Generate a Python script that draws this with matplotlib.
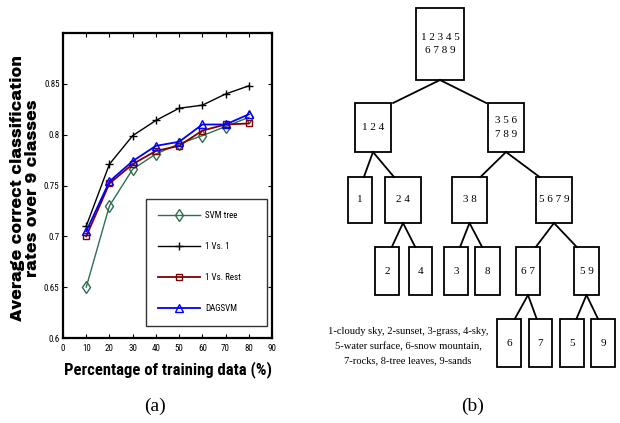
import matplotlib
matplotlib.use("Agg")
import matplotlib.pyplot as plt
from matplotlib.patches import Rectangle

# ---- data for panel (a)
train_pct = [10, 20, 30, 40, 50, 60, 70, 80]
svm_tree = [0.650, 0.730, 0.766, 0.781, 0.791, 0.799, 0.808, 0.817]
one_vs_one = [0.710, 0.771, 0.799, 0.814, 0.826, 0.829, 0.840, 0.848]
one_vs_rest = [0.700, 0.752, 0.771, 0.784, 0.789, 0.804, 0.810, 0.811]
dagsvm = [0.705, 0.754, 0.774, 0.789, 0.793, 0.810, 0.810, 0.820]
series_names = ["SVM tree", "1 Vs. 1", "1 Vs. Rest", "DAGSVM"]
xticks = list(range(0, 100, 10))
yticks = [0.6, 0.65, 0.7, 0.75, 0.8, 0.85]
ytick_labels = ["0.6", "0.65", "0.7", "0.75", "0.8", "0.85"]

# ---- data for panel (b): tree of class groups
tree_labels = ["1 2 3 4 5\n6 7 8 9", "1 2 4", "3 5 6\n7 8 9", "1", "2 4", "3 8",
               "5 6 7 9", "2", "4", "3", "8", "6 7", "5 9", "6", "7", "5", "9"]
tree_edges = [(0, 1), (0, 2), (1, 3), (1, 4), (2, 5), (2, 6), (4, 7), (4, 8),
              (5, 9), (5, 10), (6, 11), (6, 12), (11, 13), (11, 14), (12, 15), (12, 16)]
legend_text = ("1-cloudy sky, 2-sunset, 3-grass, 4-sky,\n"
               "5-water surface, 6-snow mountain,\n"
               "7-rocks, 8-tree leaves, 9-sands")

W, H = 620, 423
fig = plt.figure(figsize=(W / 100, H / 100), dpi=100)

narrow = ["Roboto Condensed", "Archivo Narrow", "PT Sans Narrow", "DejaVu Sans"]
heavy = ["Archivo Black", "DejaVu Sans"]
serif = ["Liberation Serif", "DejaVu Serif"]

# ---------------- panel (a)
ax = fig.add_axes([63 / W, 1 - 338 / H, 209 / W, 305 / H])
ax.plot(train_pct, svm_tree, color="#2f6f4f", lw=1, marker="d", mfc="none", ms=6, mew=1, label=series_names[0])
ax.plot(train_pct, one_vs_one, color="black", lw=1, marker="+", ms=6, mew=1, label=series_names[1])
ax.plot(train_pct, one_vs_rest, color="#800000", lw=1.3, marker="s", mfc="none", ms=5, mew=1, label=series_names[2])
ax.plot(train_pct, dagsvm, color="#0000ff", lw=1.3, marker="^", mfc="none", ms=6, mew=1, label=series_names[3])
ax.set_xlim(0, 90)
ax.set_ylim(0.6, 0.9)
ax.set_xticks(xticks)
ax.set_yticks(yticks)
ax.set_xticklabels([str(t) for t in xticks], family=narrow, fontsize=6.5)
ax.set_yticklabels(ytick_labels, family=narrow, fontsize=6.5)
ax.tick_params(direction="in", length=3, width=0.8, top=True, right=True)
ax.tick_params(axis="x", pad=4.5)
ax.tick_params(axis="y", pad=2.5)
for s in ax.spines.values():
    s.set_linewidth(1.6)

leg = ax.legend(loc="upper left", bbox_to_anchor=(0.397, 0.0295, 0.579, 0.4265),
                mode="expand", prop={"family": narrow, "size": 6.5},
                handlelength=4.6, handletextpad=0.6, labelspacing=2.45,
                borderpad=1.35, fancybox=False, frameon=True, borderaxespad=0)
leg.get_frame().set_edgecolor("black")
leg.get_frame().set_linewidth(1.0)

fig.text(25 / W, 1 - 188 / H, "Average correct classification\nrates over 9 classes",
         rotation=90, ha="center", va="center", fontsize=11.5, fontweight="bold",
         family=heavy, linespacing=1.0)
fig.text(168 / W, 1 - 370 / H, "Percentage of training data (%)", ha="center", va="center",
         fontsize=12, fontweight="bold", family=narrow)
fig.text(155 / W, 1 - 406 / H, "(a)", ha="center", va="center", fontsize=14, family=serif)

# ---------------- panel (b): pixel-coordinate axes
tx = fig.add_axes([0, 0, 1, 1])
tx.set_xlim(0, W)
tx.set_ylim(H, 0)
tx.axis("off")

# box extents (x0, x1, y0, y1) in pixels
boxes = [(416, 464, 8, 80), (355, 391, 103, 152), (488, 524, 103, 152),
         (348, 372, 177, 223), (385, 421, 177, 223), (452, 487, 177, 223), (536, 572, 177, 223),
         (375, 399, 247, 295), (409, 432, 247, 295), (444, 468, 247, 295), (475, 500, 247, 295),
         (516, 540, 247, 295), (574, 599, 247, 295),
         (497, 521, 319, 367), (529, 552, 319, 367), (560, 584, 319, 367), (591, 615, 319, 367)]
for (x0, x1, y0, y1), lab in zip(boxes, tree_labels):
    tx.add_patch(Rectangle((x0, y0), x1 - x0, y1 - y0, fill=False, lw=1.3, ec="black"))
    tx.text((x0 + x1) / 2, (y0 + y1) / 2, lab, ha="center", va="center",
            fontsize=8, family=serif, linespacing=1.6)
for p, c in tree_edges:
    px0, px1, _, py1 = boxes[p]
    cx0, cx1, cy0, _ = boxes[c]
    pxc = (px0 + px1) / 2
    cxc = (cx0 + cx1) / 2
    # edge ends inside the child's top edge, leaning toward the parent
    ex = cxc + 0.3 * (pxc - cxc)
    tx.plot([pxc, ex], [py1, cy0], color="black", lw=1.3)

tx.text(408, 346, legend_text, ha="center", va="center", fontsize=7.6,
        family=serif, linespacing=1.75)
tx.text(473, 406, "(b)", ha="center", va="center", fontsize=14, family=serif)

fig.savefig("out.png", dpi=100)
